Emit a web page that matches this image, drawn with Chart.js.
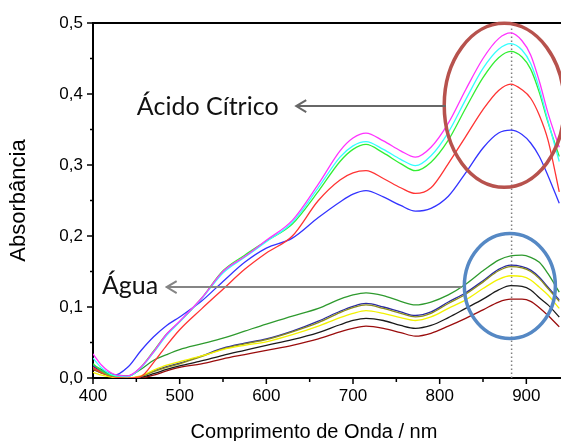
<!DOCTYPE html>
<html>
<head>
<meta charset="utf-8">
<script src="https://cdn.jsdelivr.net/npm/chart.js@4.4.0/dist/chart.umd.min.js"></script>
<style>
  body { margin: 0; background: #fff; }
  canvas { display: block; }
</style>
</head>
<body>
<canvas id="myChart" width="561" height="441"></canvas>
<script>
const wavelengths = [400, 410, 423, 440, 455, 470, 485, 500, 525, 550, 575, 600, 630, 660, 685, 700,
  715, 735, 755, 772, 790, 810, 830, 850, 868, 882, 895, 905, 915, 925, 938];

// Ácido Cítrico
const acidMagenta = [.034, .018, .006, .003, .015, .037, .062, .080, .112, .150, .171, .194, .222, .273, .320, .338,
  .345, .334, .320, .311, .325, .359, .406, .450, .478, .486, .475, .455, .418, .373, .325];
const acidCyan = [.028, .014, .004, .002, .014, .036, .060, .079, .111, .148, .170, .192, .219, .268, .311, .327,
  .333, .322, .308, .299, .313, .346, .392, .436, .463, .471, .462, .443, .408, .362, .305];
const acidGreen = [.020, .010, .003, .002, .015, .038, .062, .079, .112, .151, .173, .193, .217, .263, .305, .322,
  .329, .317, .302, .292, .304, .335, .380, .423, .451, .460, .452, .435, .402, .360, .312];
const acidRed = [.015, .008, .002, .000, .002, .022, .046, .068, .097, .125, .153, .176, .200, .250, .279, .289,
  .292, .281, .268, .260, .268, .302, .340, .378, .405, .414, .406, .394, .370, .335, .262];
const acidBlue = [.018, .010, .003, .015, .038, .058, .074, .086, .108, .136, .163, .183, .197, .226, .248, .259,
  .264, .255, .243, .235, .239, .256, .289, .324, .345, .349, .343, .331, .312, .285, .246];

// Água
const waterGreen = [.018, .012, .005, .003, .012, .025, .033, .040, .048, .056, .066, .076, .087, .098, .111, .117,
  .120, .116, .108, .103, .107, .117, .132, .151, .166, .172, .173, .170, .163, .147, .121];
const waterNavy = [.014, .008, .003, .000, .002, .010, .016, .021, .031, .042, .049, .055, .066, .080, .094, .101,
  .105, .100, .093, .088, .093, .107, .120, .137, .153, .159, .157, .152, .142, .128, .110];
const waterOlive = [.013, .007, .002, .000, .002, .009, .015, .020, .030, .041, .048, .054, .065, .078, .092, .099,
  .103, .098, .091, .086, .091, .105, .118, .135, .151, .157, .155, .150, .140, .126, .108];
const waterYellow = [.008, .004, .001, .000, .003, .011, .018, .023, .031, .040, .046, .051, .061, .073, .085, .091,
  .095, .091, .085, .081, .086, .098, .110, .126, .139, .144, .143, .138, .128, .117, .098];
const waterBlack = [.016, .010, .004, .000, .001, .006, .012, .017, .024, .032, .039, .046, .054, .064, .075, .081,
  .084, .081, .074, .070, .074, .085, .098, .111, .124, .130, .129, .124, .113, .103, .086];
const waterMaroon = [.012, .007, .003, .000, .000, .004, .010, .015, .020, .027, .033, .039, .046, .055, .065, .070,
  .073, .070, .064, .059, .063, .073, .084, .096, .107, .111, .111, .108, .099, .088, .072];

const xTicks = [400, 450, 500, 550, 600, 650, 700, 750, 800, 850, 900];
const yTicks = [0, 0.05, 0.1, 0.15, 0.2, 0.25, 0.3, 0.35, 0.4, 0.45, 0.5];
const peakNm = 883;
const peakTop = 0.494;

const series = [
  { values: acidMagenta, color: "#ff33ff" },
  { values: acidCyan, color: "#33ffff" },
  { values: acidGreen, color: "#33ee33" },
  { values: acidRed, color: "#ff3333" },
  { values: acidBlue, color: "#3333ff" },
  { values: waterGreen, color: "#2e9a2e" },
  { values: waterYellow, color: "#f2f200" },
  { values: waterOlive, color: "#8c8c1a" },
  { values: waterNavy, color: "#2b2ba0" },
  { values: waterBlack, color: "#1a1a1a" },
  { values: waterMaroon, color: "#9a0c0c" },
];

// overlay marks (centres in data units, sizes in px)
const notes = {
  acidEllipse: { x: 874.5, y: 0.384, rx: 60, ry: 82, color: "#b7524d" },
  waterEllipse: { x: 881, y: 0.1296, rx: 45.5, ry: 52.5, color: "#5588c4" },
  acidArrow: { from: 807, to: 634.5, y: 0.383, color: "#676767" },
  waterArrow: { from: 825, to: 485, y: 0.128, color: "#858585" },
  acidLabel: { text: "Ácido Cítrico", x: 450.6, y: 0.3704 },
  waterLabel: { text: "Água", x: 410.3, y: 0.1183 },
};

const overlay = {
  id: "overlay",
  afterDatasetsDraw(chart) {
    const { ctx, chartArea, scales: { x, y } } = chart;
    ctx.save();

    // top frame
    ctx.strokeStyle = "#000";
    ctx.lineWidth = 2;
    ctx.beginPath();
    ctx.moveTo(chartArea.left - 1, chartArea.top);
    ctx.lineTo(chart.width, chartArea.top);
    ctx.stroke();

    // tick marks (outside)
    ctx.lineWidth = 1.5;
    x.ticks.forEach((t) => {
      const px = x.getPixelForValue(t.value);
      const len = t.value % 100 === 0 ? 6 : 4;
      ctx.beginPath();
      ctx.moveTo(px, chartArea.bottom);
      ctx.lineTo(px, chartArea.bottom + len);
      ctx.stroke();
    });
    y.ticks.forEach((t) => {
      const py = y.getPixelForValue(t.value);
      const len = Math.round(t.value * 100) % 10 === 0 ? 6 : 3;
      ctx.beginPath();
      ctx.moveTo(chartArea.left, py);
      ctx.lineTo(chartArea.left - len, py);
      ctx.stroke();
    });

    // ellipses
    ctx.lineWidth = 3.5;
    [notes.acidEllipse, notes.waterEllipse].forEach((e) => {
      ctx.strokeStyle = e.color;
      ctx.beginPath();
      ctx.ellipse(x.getPixelForValue(e.x), y.getPixelForValue(e.y), e.rx, e.ry, 0, 0, Math.PI * 2);
      ctx.stroke();
    });

    // arrows
    ctx.lineWidth = 2;
    [notes.acidArrow, notes.waterArrow].forEach((a) => {
      const x0 = x.getPixelForValue(a.from);
      const x1 = x.getPixelForValue(a.to);
      const yy = y.getPixelForValue(a.y);
      ctx.strokeStyle = a.color;
      ctx.beginPath();
      ctx.moveTo(x0, yy);
      ctx.lineTo(x1, yy);
      ctx.moveTo(x1 + 10, yy - 6);
      ctx.lineTo(x1, yy);
      ctx.lineTo(x1 + 10, yy + 6);
      ctx.stroke();
    });

    // labels
    ctx.fillStyle = "#111";
    ctx.font = "25px Lato";
    ctx.textBaseline = "alphabetic";
    ctx.textAlign = "left";
    [notes.acidLabel, notes.waterLabel].forEach((l) => {
      ctx.fillText(l.text, x.getPixelForValue(l.x), y.getPixelForValue(l.y));
    });

    // x axis title
    ctx.fillStyle = "#000";
    ctx.font = "20px 'Liberation Sans'";
    ctx.textAlign = "center";
    ctx.fillText("Comprimento de Onda / nm", 314, 438);

    ctx.restore();
  },
};

const ctx = document.getElementById("myChart");

const datasets = series.map((s) => ({
  data: wavelengths.map((w, i) => ({ x: w, y: s.values[i] })),
  borderColor: s.color,
  borderWidth: 1.3,
  pointRadius: 0,
  cubicInterpolationMode: "monotone",
  fill: false,
}));

// dotted marker at the band maximum
datasets.push({
  data: [{ x: peakNm, y: 0 }, { x: peakNm, y: peakTop }],
  borderColor: "#808080",
  borderWidth: 1.5,
  borderDash: [1.5, 2.5],
  pointRadius: 0,
  fill: false,
});

const tickFont = { family: "'Liberation Sans', Arial", size: 17 };

const myChart = new Chart(ctx, {
  type: "line",
  data: { datasets },
  options: {
    responsive: false,
    animation: false,
    layout: { padding: { top: 23, right: 0, left: 0, bottom: 0 } },
    scales: {
      x: {
        type: "linear",
        min: 400,
        max: 940,
        afterBuildTicks: (scale) => {
          scale.ticks = xTicks.map((v) => ({ value: v }));
        },
        afterFit: (scale) => {
          scale.height = 63;
        },
        grid: { display: false, drawTicks: false },
        border: { display: true, color: "#000", width: 2 },
        ticks: {
          color: "#000",
          font: tickFont,
          padding: 8,
          maxRotation: 0,
          autoSkip: false,
          callback: (v) => (v % 100 === 0 ? String(v) : ""),
        },
      },
      y: {
        min: 0,
        max: 0.5,
        afterBuildTicks: (scale) => {
          scale.ticks = yTicks.map((v) => ({ value: v }));
        },
        afterFit: (scale) => {
          scale.width = 93;
        },
        grid: { display: false, drawTicks: false },
        border: { display: true, color: "#000", width: 2 },
        ticks: {
          color: "#000",
          font: tickFont,
          padding: 10,
          autoSkip: false,
          callback: (v) => (Math.round(v * 100) % 10 === 0 ? v.toFixed(1).replace(".", ",") : ""),
        },
        title: {
          display: true,
          text: "Absorbância",
          color: "#000",
          font: { family: "'Liberation Sans', Arial", size: 22 },
          padding: { top: 6, bottom: 0 },
        },
      },
    },
    plugins: {
      legend: { display: false },
      tooltip: { enabled: false },
    },
  },
  plugins: [overlay],
});
</script>
</body>
</html>
